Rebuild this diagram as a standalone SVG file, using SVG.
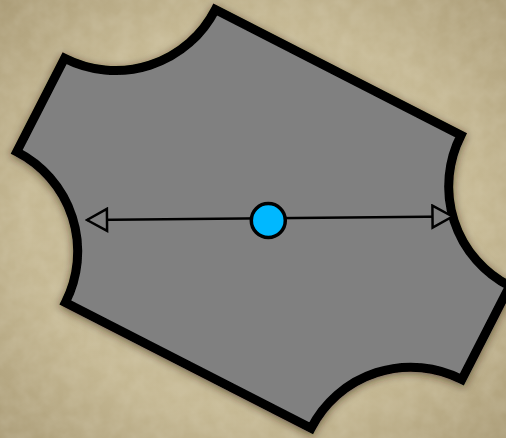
<svg xmlns="http://www.w3.org/2000/svg" width="506" height="438" viewBox="0 0 506 438">
  <defs>
    <radialGradient id="bg" cx="50%" cy="50%" r="75%">
      <stop offset="0" stop-color="#cdc29f"/>
      <stop offset="0.6" stop-color="#c5b893"/>
      <stop offset="1" stop-color="#a79873"/>
    </radialGradient>
    <filter id="grain" x="0" y="0" width="100%" height="100%">
      <feTurbulence type="fractalNoise" baseFrequency="0.06" numOctaves="3" seed="4" result="n"/>
      <feColorMatrix type="matrix" values="0 0 0 0 0.95  0 0 0 0 0.92  0 0 0 0 0.82  0 0 0 0.22 -0.06" in="n"/>
    </filter>
    <filter id="shadow" x="-20%" y="-20%" width="140%" height="140%">
      <feDropShadow dx="0" dy="2" stdDeviation="4" flood-color="#2a1e08" flood-opacity="0.6"/>
    </filter>
    <marker id="arrow" viewBox="-2 -13 24 26" refX="20" refY="0" markerWidth="24" markerHeight="26" markerUnits="userSpaceOnUse" orient="auto-start-reverse">
      <path d="M0,-11 L20,0 L0,11 Z" fill="#808080" stroke="#000" stroke-width="2.5" stroke-linejoin="miter"/>
    </marker>
  </defs>
  <style>
    .shape { fill: #808080; stroke: #000; stroke-width: 9; stroke-linejoin: miter; }
    .conn { stroke: #000; stroke-width: 2.5; fill: none; }
    .dot { fill: #00b8ff; stroke: #000; stroke-width: 3.5; }
  </style>
  <rect width="506" height="438" fill="url(#bg)"/>
  <rect width="506" height="438" filter="url(#grain)"/>
  <g id="plate" filter="url(#shadow)">
    <path class="shape" transform="translate(263.2 218.9) rotate(27.1)" d="M -138 -164.5 L 138 -164.5 A 112 112 0 0 0 250 -52.5 L 250 52.5 A 112 112 0 0 0 138 164.5 L -138 164.5 A 112 112 0 0 0 -250 52.5 L -250 -52.5 A 112 112 0 0 0 -138 -164.5 Z"/>
  </g>
  <g id="connectors">
    <line class="conn" x1="87" y1="220" x2="452.5" y2="216.5" marker-start="url(#arrow)" marker-end="url(#arrow)"/>
  </g>
  <g id="center">
    <circle class="dot" cx="268.3" cy="220.5" r="17"/>
  </g>
</svg>
